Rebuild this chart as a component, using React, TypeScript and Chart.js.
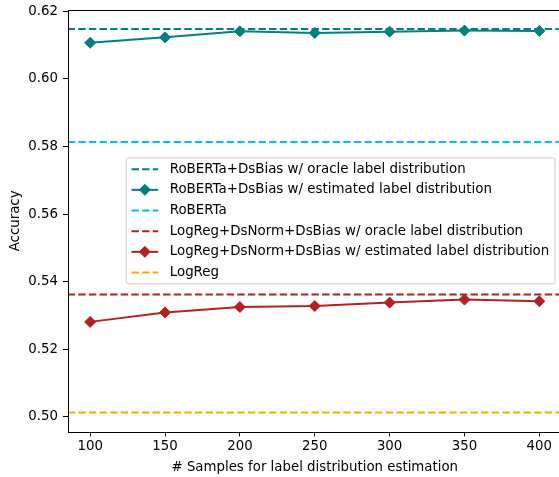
import React, { useEffect, useRef } from "react";
import { Chart, registerables } from "chart.js";

Chart.register(...registerables);

// ---- data ----
const X_SAMPLES = [100, 150, 200, 250, 300, 350, 400];
const ROBERTA_DSBIAS_EST = [0.6107, 0.6123, 0.6141, 0.6136, 0.614, 0.6143, 0.6142];
const LOGREG_DSBIAS_EST = [0.5281, 0.5309, 0.5325, 0.5328, 0.5338, 0.5347, 0.5342];
const ROBERTA_DSBIAS_ORACLE = 0.6148;
const ROBERTA = 0.5813;
const LOGREG_DSBIAS_ORACLE = 0.5362;
const LOGREG = 0.5013;

const X_TICKS = [100, 150, 200, 250, 300, 350, 400];
const Y_TICKS = [0.5, 0.52, 0.54, 0.56, 0.58, 0.6, 0.62];
const X_LIMITS = [85, 415];
const Y_LIMITS = [0.4956, 0.6204];

const SERIES_LABELS = [
  "RoBERTa+DsBias w/ oracle label distribution",
  "RoBERTa+DsBias w/ estimated label distribution",
  "RoBERTa",
  "LogReg+DsNorm+DsBias w/ oracle label distribution",
  "LogReg+DsNorm+DsBias w/ estimated label distribution",
  "LogReg",
];
const X_TITLE = "# Samples for label distribution estimation";
const Y_TITLE = "Accuracy";

// ---- style ----
const TEAL = "#008080";
const SKY = "#00BFFF";
const FIREBRICK = "#B22222";
const ORANGE = "#FFA500";
const DASH = [7.4, 3.2];
const FS = 13.33;
const LEGEND_FS = 13.4;
const FONT_FAMILY = '"DejaVu Sans", sans-serif';

const CANVAS_W = 566;
const CANVAS_H = 477;

function hline(v: number) {
  return X_LIMITS.map((x) => ({ x, y: v }));
}

function seriesPoints(ys: number[]) {
  return X_SAMPLES.map((x, i) => ({ x, y: ys[i] }));
}

const framePlugin = {
  id: "frameAndLegend",
  afterDatasetsDraw(chart: any) {
    const { ctx, chartArea } = chart;
    ctx.save();
    ctx.strokeStyle = "#000";
    ctx.lineWidth = 1;
    ctx.strokeRect(
      Math.round(chartArea.left) + 0.5,
      Math.round(chartArea.top) + 0.5,
      Math.round(chartArea.right) - Math.round(chartArea.left),
      Math.round(chartArea.bottom) - Math.round(chartArea.top)
    );
    ctx.restore();
  },
  afterDraw(chart: any) {
    const { ctx, chartArea } = chart;
    const datasets = chart.data.datasets;
    ctx.save();
    ctx.font = `${LEGEND_FS}px ${FONT_FAMILY}`;
    const maxW = Math.max(...datasets.map((d: any) => ctx.measureText(d.label).width));
    const pad = 5.3;
    const handleLen = 26.7;
    const handlePad = 11.5;
    const step = 20.67;
    const right = chartArea.right - 6.7;
    const width = pad + handleLen + handlePad + maxW + pad + 0.5;
    const left = right - width;
    const cy = (chartArea.top + chartArea.bottom) / 2;
    const height = step * datasets.length + 2;
    const top = cy - height / 2;

    // box
    const r = 2.7;
    ctx.beginPath();
    ctx.moveTo(left + r, top);
    ctx.lineTo(left + width - r, top);
    ctx.arcTo(left + width, top, left + width, top + r, r);
    ctx.lineTo(left + width, top + height - r);
    ctx.arcTo(left + width, top + height, left + width - r, top + height, r);
    ctx.lineTo(left + r, top + height);
    ctx.arcTo(left, top + height, left, top + height - r, r);
    ctx.lineTo(left, top + r);
    ctx.arcTo(left, top, left + r, top, r);
    ctx.closePath();
    ctx.fillStyle = "rgba(255,255,255,0.8)";
    ctx.fill();
    ctx.strokeStyle = "#cccccc";
    ctx.lineWidth = 1;
    ctx.stroke();

    datasets.forEach((ds: any, i: number) => {
      const y = cy - ((datasets.length - 1) / 2) * step + i * step;
      const x0 = left + pad;
      const x1 = x0 + handleLen;
      ctx.beginPath();
      ctx.setLineDash(ds.borderDash || []);
      ctx.strokeStyle = ds.borderColor;
      ctx.lineWidth = ds.borderWidth;
      ctx.moveTo(x0, y);
      ctx.lineTo(x1, y);
      ctx.stroke();
      ctx.setLineDash([]);
      if (ds.pointRadius > 0) {
        const cx = (x0 + x1) / 2;
        const pr = ds.pointRadius;
        ctx.beginPath();
        ctx.moveTo(cx, y - pr);
        ctx.lineTo(cx + pr, y);
        ctx.lineTo(cx, y + pr);
        ctx.lineTo(cx - pr, y);
        ctx.closePath();
        ctx.fillStyle = ds.pointBackgroundColor;
        ctx.fill();
        ctx.strokeStyle = ds.pointBorderColor;
        ctx.lineWidth = ds.pointBorderWidth;
        ctx.stroke();
      }
      ctx.fillStyle = "#000";
      ctx.textBaseline = "middle";
      ctx.textAlign = "left";
      ctx.fillText(ds.label, x1 + handlePad, y);
    });
    ctx.restore();
  },
};

export default function App() {
  const canvasRef = useRef<HTMLCanvasElement | null>(null);

  useEffect(() => {
    const canvas = canvasRef.current;
    if (!canvas) return;

    const dashed = (label: string, v: number, color: string) => ({
      label,
      data: hline(v),
      borderColor: color,
      backgroundColor: color,
      borderDash: DASH,
      borderWidth: 2,
      pointRadius: 0,
      pointHoverRadius: 0,
    });
    const marked = (label: string, ys: number[], color: string) => ({
      label,
      data: seriesPoints(ys),
      borderColor: color,
      backgroundColor: color,
      borderWidth: 2,
      pointStyle: "rectRot",
      pointRadius: 5.5,
      pointHoverRadius: 5.5,
      pointBackgroundColor: color,
      pointBorderColor: color,
      pointBorderWidth: 1,
    });

    const datasets: any[] = [
      dashed(SERIES_LABELS[0], ROBERTA_DSBIAS_ORACLE, TEAL),
      marked(SERIES_LABELS[1], ROBERTA_DSBIAS_EST, TEAL),
      dashed(SERIES_LABELS[2], ROBERTA, SKY),
      dashed(SERIES_LABELS[3], LOGREG_DSBIAS_ORACLE, FIREBRICK),
      marked(SERIES_LABELS[4], LOGREG_DSBIAS_EST, FIREBRICK),
      dashed(SERIES_LABELS[5], LOGREG, ORANGE),
    ].map((d, i, arr) => ({ ...d, order: arr.length - i }));

    const font = { family: FONT_FAMILY, size: FS };

    const chart = new Chart(canvas, {
      type: "line",
      data: { datasets },
      options: {
        animation: false,
        responsive: false,
        maintainAspectRatio: false,
        events: [],
        layout: {
          autoPadding: false,
          padding: { top: 10, right: CANVAS_W - 561.8, bottom: 0, left: 0 },
        },
        plugins: {
          legend: { display: false },
          tooltip: { enabled: false },
        },
        scales: {
          x: {
            type: "linear",
            min: X_LIMITS[0],
            max: X_LIMITS[1],
            afterBuildTicks: (scale: any) => {
              scale.ticks = X_TICKS.map((v) => ({ value: v }));
            },
            afterFit: (scale: any) => {
              scale.height = CANVAS_H - 431.7;
              scale.paddingLeft = 0;
              scale.paddingRight = 0;
              scale.paddingTop = 0;
              scale.paddingBottom = 0;
            },
            ticks: {
              color: "#000",
              font,
              padding: 2,
              maxRotation: 0,
              autoSkip: false,
              callback: (v: any) => String(v),
            },
            grid: {
              drawOnChartArea: false,
              drawTicks: true,
              tickLength: 4.7,
              tickColor: "#000",
              tickWidth: 1,
            },
            border: { display: false },
            title: {
              display: true,
              text: X_TITLE,
              color: "#000",
              font,
              padding: { top: 0, bottom: 1.5 },
            },
          },
          y: {
            type: "linear",
            min: Y_LIMITS[0],
            max: Y_LIMITS[1],
            afterBuildTicks: (scale: any) => {
              scale.ticks = Y_TICKS.map((v) => ({ value: v }));
            },
            afterFit: (scale: any) => {
              scale.width = 67.7;
              scale.paddingLeft = 0;
              scale.paddingRight = 0;
              scale.paddingTop = 0;
              scale.paddingBottom = 0;
            },
            ticks: {
              color: "#000",
              font,
              padding: 5,
              autoSkip: false,
              callback: (v: any) => Number(v).toFixed(2),
            },
            grid: {
              drawOnChartArea: false,
              drawTicks: true,
              tickLength: 4.7,
              tickColor: "#000",
              tickWidth: 1,
            },
            border: { display: false },
            title: {
              display: true,
              text: Y_TITLE,
              color: "#000",
              font,
              padding: { top: 7.5, bottom: 0 },
            },
          },
        },
      } as any,
      plugins: [framePlugin],
    });

    return () => {
      chart.destroy();
    };
  }, []);

  return (
    <div
      style={{
        position: "fixed",
        left: 0,
        top: 0,
        width: 559,
        height: CANVAS_H,
        overflow: "hidden",
        background: "#fff",
      }}
    >
      <canvas
        ref={canvasRef}
        width={CANVAS_W}
        height={CANVAS_H}
        style={{ width: CANVAS_W, height: CANVAS_H, display: "block" }}
      />
    </div>
  );
}
